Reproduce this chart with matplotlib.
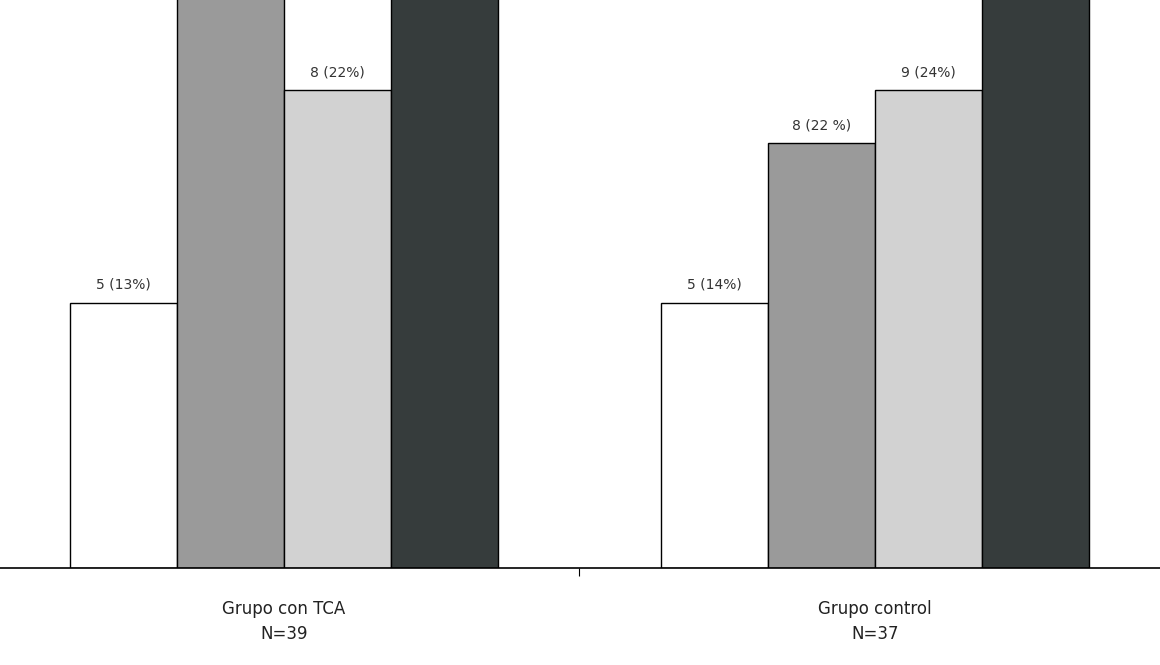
import matplotlib
matplotlib.use("Agg")
import matplotlib.pyplot as plt
import numpy as np

groups = ["Grupo con TCA\nN=39", "Grupo control\nN=37"]
series_colors = ["#ffffff", "#9a9a9a", "#d2d2d2", "#363c3c"]
values = [[5, 12, 9, 13], [5, 8, 9, 15]]
labels = [["5 (13%)", "", "8 (22%)", ""], ["5 (14%)", "8 (22 %)", "9 (24%)", ""]]

fig = plt.figure(figsize=(11.6, 6.65), dpi=100)
ax = fig.add_axes([0, 0.146, 1, 0.854])
w = 0.181
for g in range(2):
    for s in range(4):
        x = g + (s - 1.5) * w
        ax.bar(x, values[g][s], width=w, color=series_colors[s], edgecolor="black", linewidth=1.0)
        if labels[g][s]:
            ax.text(x, values[g][s] + 0.2, labels[g][s], ha="center", va="bottom",
                    fontsize=10, color="#333333")
ax.set_xlim(-0.48, 1.482)
ax.set_ylim(0, 10.7)
for sp in ["top", "left", "right"]:
    ax.spines[sp].set_visible(False)
ax.spines["bottom"].set_linewidth(1.2)
ax.set_yticks([])
ax.set_xticks([0.5])
ax.set_xticklabels([""])
ax.tick_params(axis="x", length=6)
for g in range(2):
    ax.text(g, -0.6, groups[g], ha="center", va="top", fontsize=12, color="#222222", linespacing=1.5)
fig.savefig("out.png", dpi=100)
